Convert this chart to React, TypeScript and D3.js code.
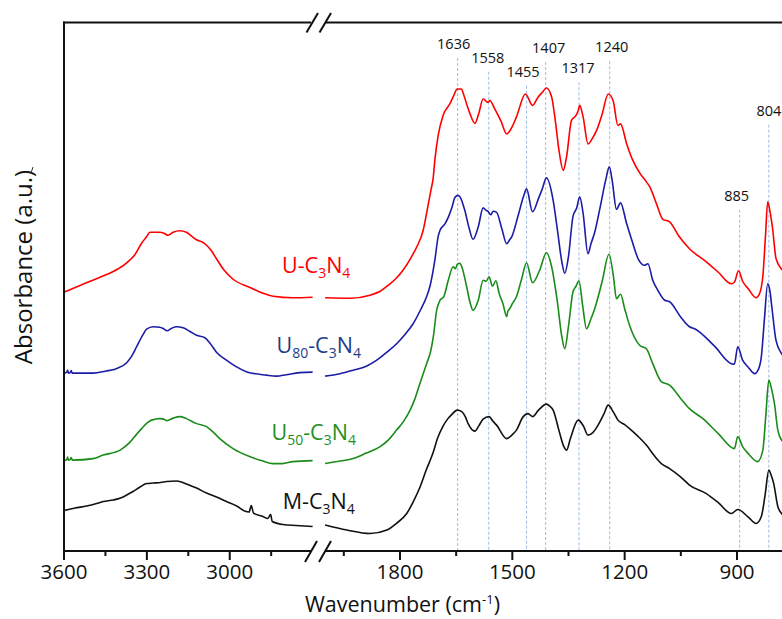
import React from 'react';
import * as d3 from 'd3';

type P = [number, number];

// ---- data (wavenumber cm-1, absorbance a.u.) ----
const uLeft: P[] = [[3600,51.8],[3540,53.2],[3470,54.8],[3420,56],[3373,57.7],[3345,59.2],[3319,61.6],[3300,63.0],[3289,63.8],[3253,63.8],[3238,63.6],[3223,63.2],[3205,63.8],[3181,64.1],[3157,63.8],[3135,62.9],[3120,62.3],[3098,61.8],[3084,61.2],[3065,60.0],[3048,58.5],[3020,56.2],[2988,54.4],[2928,52.8],[2880,51.6],[2843,51],[2771,50.7],[2700,50.8]];
const uRight: P[] = [[2000,50.7],[1933,50.6],[1880,51.2],[1853,52.0],[1835,53.0],[1810,54.6],[1791,56.3],[1770,58.8],[1755,60.9],[1738,64.2],[1729,67.6],[1718,72.0],[1711,74.9],[1707,78.2],[1698,83.2],[1685,87.2],[1667,89.5],[1658,90.9],[1647,92.5],[1636,92.5],[1631,91.6],[1620,89],[1613,87.5],[1600,85.6],[1590,87.5],[1578,90.5],[1565,89.8],[1560,90.2],[1547,88.5],[1530,86],[1515,83.5],[1500,85],[1489,86.9],[1465,91.5],[1446,89.2],[1431,90.9],[1420,91.8],[1409,92.7],[1395,90.9],[1385,86],[1375,80],[1364,76.2],[1355,79],[1342,86.2],[1330,87.2],[1324,88.2],[1320,89.2],[1311,86.9],[1298,81.5],[1287,82.5],[1275,84.2],[1260,87.5],[1244,91.5],[1231,90.2],[1218,85.2],[1211,85.5],[1195,81.6],[1180,78.5],[1160,75.7],[1142,73.9],[1133,72.9],[1115,69.5],[1098,66.4],[1080,65.9],[1055,63],[1027,60.5],[982,57.9],[950,55.8],[915,53.5],[907,53.8],[896,56.1],[885,54],[870,52.5],[849,50.7],[840,51.5],[831,55],[824,63],[818,69.9],[812,68],[805,64.6],[796,58.6],[781,56.4],[770,55.8]];

const u80Left: P[] = [[3600,35.6],[3590,35.8],[3587,36.2],[3584,35.6],[3578,35.7],[3574,36.1],[3570,35.6],[3494,35.6],[3450,36],[3410,36.5],[3373,37.7],[3355,39],[3337,40.9],[3315,43.2],[3301,44.4],[3277,44.9],[3253,44.8],[3240,44.5],[3227,44.1],[3210,44.6],[3193,44.9],[3169,44.7],[3145,44.0],[3120,43.2],[3090,42.7],[3070,41.5],[3048,39.8],[3012,38.2],[2980,37],[2940,35.9],[2867,35.2],[2831,35],[2795,35.3],[2747,35.7],[2700,35.8]];
const u80Right: P[] = [[2000,35],[1960,35.5],[1925,36.2],[1890,37],[1862,38.2],[1835,39.8],[1809,41.5],[1785,43.5],[1765,45.5],[1745,48.3],[1729,50.9],[1720,53.0],[1707,58.2],[1698,63],[1693,64.2],[1680,65.5],[1670,67],[1662,68.6],[1653,70.8],[1645,71.2],[1640,70.9],[1627,68.2],[1615,64.5],[1605,62.4],[1591,64.9],[1578,68.7],[1570,68.2],[1565,68],[1558,67.3],[1551,68],[1542,67.8],[1528,64.5],[1515,61.5],[1508,62.2],[1501,63],[1485,67],[1470,71],[1462,72.5],[1446,67.9],[1430,70.6],[1420,72.5],[1409,74.7],[1391,70.2],[1380,64.5],[1368,58],[1360,55.6],[1350,59],[1338,67],[1328,68.7],[1320,70.9],[1311,67.6],[1298,59.5],[1290,61.5],[1280,63.8],[1265,69],[1250,74.5],[1241,76.9],[1233,74],[1222,68.4],[1211,69.7],[1195,65.6],[1180,62],[1164,58.5],[1147,57.2],[1138,57.5],[1125,54.2],[1110,52],[1093,50.2],[1080,49.9],[1050,46.8],[1027,44.9],[1013,44.5],[960,41],[915,37.5],[907,37.4],[898,40.9],[885,38.2],[870,36.8],[853,35.5],[842,36.5],[835,38.9],[827,46.2],[818,53.5],[812,52],[806,48.2],[796,42.2],[781,39.5],[770,38.5]];

const u50Left: P[] = [[3600,18.1],[3590,18.3],[3587,18.8],[3584,18.2],[3578,18.3],[3574,18.7],[3570,18.2],[3494,18.5],[3458,19.2],[3397,20.2],[3361,21.8],[3340,23.2],[3319,24.5],[3300,25.6],[3283,26.2],[3253,26.5],[3240,26.4],[3227,26.1],[3205,26.6],[3181,26.9],[3157,26.5],[3120,25.5],[3084,24.9],[3060,23.8],[3036,22.5],[2988,20.5],[2928,18.9],[2880,18],[2843,17.5],[2810,17.5],[2771,17.9],[2700,18.1]];
const u50Right: P[] = [[2000,17.5],[1960,18],[1925,18.5],[1890,19.6],[1853,20.9],[1830,22.3],[1809,24.2],[1790,26],[1773,28.2],[1760,30.5],[1747,33.5],[1738,35.5],[1729,37.5],[1718,40],[1711,42.9],[1702,48.2],[1693,50.2],[1683,50.9],[1671,54.2],[1658,56.9],[1652,56.5],[1647,57.4],[1640,57.6],[1635,56.9],[1622,52.9],[1612,49.5],[1605,48.2],[1591,50.2],[1578,54.2],[1570,54],[1562,54.9],[1553,53],[1544,54.1],[1535,51.5],[1525,49.5],[1515,46.9],[1512,48],[1507,48.5],[1500,49.5],[1489,50.9],[1475,54.5],[1462,57.7],[1446,53.7],[1427,56.2],[1409,59.7],[1395,56.9],[1380,50],[1368,43],[1360,40.5],[1350,45],[1338,51.9],[1330,53],[1322,54.1],[1312,49],[1302,44.5],[1290,46.5],[1280,48.5],[1260,54],[1242,59.4],[1230,55],[1222,50.5],[1211,51.4],[1200,48.5],[1187,45.2],[1160,41.2],[1142,40.5],[1125,37.5],[1102,33.9],[1080,33.2],[1050,30.5],[1027,28.5],[991,26.5],[950,23.5],[907,20.5],[898,22.9],[885,20.9],[870,19.5],[845,17.9],[831,20.2],[823,27.2],[815,34.2],[808,32.5],[800,29.5],[791,24.2],[781,22.2],[770,21.5]];

const mLeft: P[] = [[3600,8.1],[3560,8.6],[3518,9.0],[3482,9.5],[3458,9.9],[3422,10.2],[3395,10.6],[3373,11.2],[3350,11.9],[3325,12.8],[3301,13.5],[3277,13.6],[3250,13.7],[3229,13.9],[3193,14.0],[3175,13.8],[3157,13.4],[3120,12.6],[3084,11.6],[3048,10.8],[3012,9.9],[2975,9],[2946,8.0],[2930,7.8],[2922,9.1],[2914,7.6],[2880,6.9],[2862,6.5],[2852,7.3],[2846,5.9],[2807,5.3],[2760,5.1],[2700,4.9]];
const mRight: P[] = [[2000,5.2],[1942,4.2],[1880,3.5],[1835,4.2],[1810,5.5],[1782,7.5],[1765,9.8],[1747,12.7],[1730,16.2],[1711,19.8],[1700,22.5],[1685,25],[1672,26.5],[1662,27.3],[1647,28.2],[1635,27.9],[1625,26.8],[1618,25.5],[1600,24],[1590,25],[1578,26.4],[1562,26.9],[1552,26],[1542,25.2],[1515,22.5],[1500,23.3],[1489,24.2],[1471,26.9],[1458,27.5],[1452,27.2],[1446,26.9],[1430,28.2],[1409,29.4],[1400,29],[1391,28.2],[1375,24],[1363,21],[1355,20.2],[1345,22.5],[1324,26.2],[1310,25],[1298,23.2],[1285,23.7],[1271,25.2],[1255,27.5],[1244,29.2],[1230,27.8],[1218,26.2],[1200,25.3],[1187,24.5],[1165,23],[1142,21.2],[1120,19],[1102,17.5],[1080,16.5],[1050,14.8],[1027,13.2],[982,11.5],[950,9.7],[915,7.5],[898,8.3],[870,6.8],[849,5.5],[835,6.9],[825,11.2],[815,16.2],[808,15],[802,13.5],[791,8.9],[781,7.5],[770,6.8]];

// label text parts: even index = normal, odd index = subscript
const seriesLabels: string[][] = [['U-C', '3', 'N', '4'], ['U', '80', '-C', '3', 'N', '4'], ['U', '50', '-C', '3', 'N', '4'], ['M-C', '3', 'N', '4']];

const peakLabels = ['1636', '1558', '1455', '1407', '1317', '1240', '885', '804'];
const peakPositions = [1646, 1563, 1462, 1411, 1322, 1240, 893, 815];

const leftMajorTicks = [3600, 3300, 3000];
const leftMinorTicks = [3450, 3150, 2850];
const rightMajorTicks = [1800, 1500, 1200, 900];
const rightMinorTicks = [1950, 1650, 1350, 1050, 750];

// ---- layout / style ----
const W = 782, H = 619;
const TOP = 22.5, BOTTOM = 551;
const seriesStyle = [
  { color: '#ff0000', labelColor: '#ff0000', lx: 282, ly: 272.7 },
  { color: '#1c1ca6', labelColor: '#1f3c88', lx: 276.5, ly: 353.3 },
  { color: '#1a8c1a', labelColor: '#1e8f1e', lx: 271.5, ly: 440 },
  { color: '#111111', labelColor: '#111111', lx: 282.7, ly: 509 },
];
const peakLayout = [
  { dx: -4, base: 49 }, { dx: -1, base: 62.7 }, { dx: -3.5, base: 76.7 }, { dx: 3, base: 53 },
  { dx: -1, base: 73.3 }, { dx: 2, base: 52.3 }, { dx: -3, base: 200.7 }, { dx: 0, base: 115.7 },
];
const SANS = "'Open Sans', 'Noto Sans', sans-serif";

function SubLabel({ parts, x, y, color }: { parts: string[]; x: number; y: number; color: string }) {
  return (
    <text x={x} y={y} fill={color} fontFamily={SANS} fontSize={21.5}>
      {parts.map((p, i) =>
        i % 2 === 1 ? (
          <tspan key={i} dy={5} fontSize={14}>{p}</tspan>
        ) : (
          <tspan key={i} dy={i === 0 ? 0 : -5}>{p}</tspan>
        )
      )}
    </text>
  );
}

export default function App() {
  const xL = d3.scaleLinear().domain([3600, 2700]).range([64, 312.6]);
  const xR = d3.scaleLinear().domain([2000, 700]).range([325.1, 811.9]);
  const y = d3.scaleLinear().domain([0, 105.8]).range([BOTTOM, TOP]);
  const lineL = d3.line<P>().x(d => xL(d[0])).y(d => y(d[1])).curve(d3.curveMonotoneX);
  const lineR = d3.line<P>().x(d => xR(d[0])).y(d => y(d[1])).curve(d3.curveMonotoneX);

  const series = [
    { left: uLeft, right: uRight },
    { left: u80Left, right: u80Right },
    { left: u50Left, right: u50Right },
    { left: mLeft, right: mRight },
  ];

  const breakL = xL(2700) - 1.5;
  const breakR = xR(2000);

  return (
    <div style={{ position: 'absolute', left: 0, top: 0 }}>
      <svg width={W} height={H} style={{ display: 'block', background: '#fff' }}>
        {/* peak dashed lines */}
        {peakPositions.map((p, i) => (
          <line key={'pl' + i} x1={xR(p)} x2={xR(p)} y1={peakLayout[i].base + 9} y2={BOTTOM}
            stroke="#9dbbe6" strokeWidth={1} strokeDasharray="3,2" />
        ))}
        {peakLabels.map((t, i) => (
          <text key={'pt' + i} x={xR(peakPositions[i]) + peakLayout[i].dx} y={peakLayout[i].base}
            textAnchor="middle" fontFamily={SANS} fontSize={14.5} fill="#111">{t}</text>
        ))}

        {/* curves */}
        {series.map((s, i) => (
          <g key={'s' + i} fill="none" stroke={seriesStyle[i].color} strokeWidth={1.6} strokeLinejoin="round">
            <path d={lineL(s.left) || ''} />
            <path d={lineR(s.right) || ''} />
          </g>
        ))}
        {seriesLabels.map((parts, i) => (
          <SubLabel key={'lab' + i} parts={parts} x={seriesStyle[i].lx} y={seriesStyle[i].ly} color={seriesStyle[i].labelColor} />
        ))}

        {/* frame */}
        <g stroke="#111" strokeWidth={2} fill="none">
          <line x1={64} x2={64} y1={TOP - 1} y2={BOTTOM + 1} />
          <line x1={63} x2={breakL} y1={TOP} y2={TOP} />
          <line x1={breakR} x2={W + 10} y1={TOP} y2={TOP} />
          <line x1={63} x2={breakL} y1={BOTTOM} y2={BOTTOM} />
          <line x1={breakR} x2={W + 10} y1={BOTTOM} y2={BOTTOM} />
          {/* break marks */}
          <line x1={306.5} y1={TOP + 10} x2={318} y2={TOP - 9.5} />
          <line x1={319.5} y1={TOP + 10} x2={331} y2={TOP - 9.5} />
          <line x1={305} y1={BOTTOM + 11} x2={317} y2={BOTTOM - 10} />
          <line x1={319} y1={BOTTOM + 11} x2={331} y2={BOTTOM - 10} />
          {/* ticks */}
          {leftMajorTicks.map(t => <line key={'lM' + t} x1={xL(t)} x2={xL(t)} y1={BOTTOM} y2={BOTTOM + 9} />)}
          {leftMinorTicks.map(t => <line key={'lm' + t} x1={xL(t)} x2={xL(t)} y1={BOTTOM} y2={BOTTOM + 5} />)}
          {rightMajorTicks.map(t => <line key={'rM' + t} x1={xR(t)} x2={xR(t)} y1={BOTTOM} y2={BOTTOM + 9} />)}
          {rightMinorTicks.map(t => <line key={'rm' + t} x1={xR(t)} x2={xR(t)} y1={BOTTOM} y2={BOTTOM + 5} />)}
        </g>

        {/* tick labels */}
        {leftMajorTicks.map(t => (
          <text key={'tl' + t} x={xL(t)} y={579} textAnchor="middle" fontFamily={SANS} fontSize={20.5} fill="#111">{t}</text>
        ))}
        {rightMajorTicks.map(t => (
          <text key={'tr' + t} x={xR(t)} y={579} textAnchor="middle" fontFamily={SANS} fontSize={20.5} fill="#111">{t}</text>
        ))}

        {/* axis titles */}
        <text x={402.5} y={611.5} textAnchor="middle" fontFamily={SANS} fontSize={21.5} fill="#111">
          <tspan>Wavenumber (cm</tspan>
          <tspan dy={-8} fontSize={13}>-1</tspan>
          <tspan dy={8}>)</tspan>
        </text>
        <text transform="translate(32,267) rotate(-90)" textAnchor="middle" fontFamily={SANS} fontSize={24} fill="#111">
          Absorbance (a.u.)
        </text>
        <line x1={31} y1={173} x2={33} y2={167} stroke="#333" strokeWidth={1} />
      </svg>
    </div>
  );
}
